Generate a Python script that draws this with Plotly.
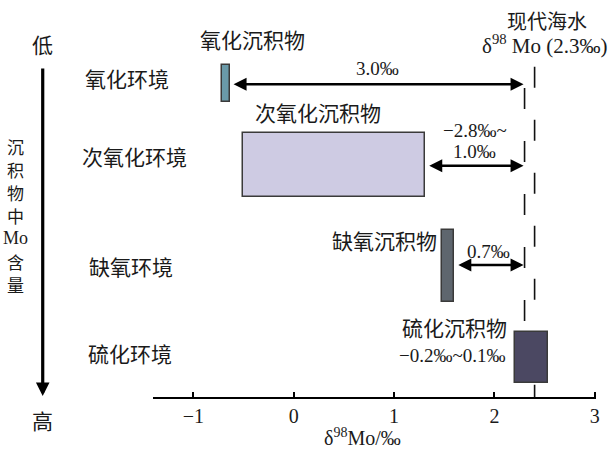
import plotly.graph_objects as go

# ---------------- data ----------------
environments = ["氧化环境", "次氧化环境", "缺氧环境", "硫化环境"]
sediments = ["氧化沉积物", "次氧化沉积物", "缺氧沉积物", "硫化沉积物"]
d98_low = [-0.72, -0.51, 1.48, 2.20]
d98_high = [-0.64, 1.31, 1.60, 2.53]
seawater = 2.3
offset_labels = ["3.0‰", "−2.8‰~", "1.0‰", "0.7‰", "−0.2‰~0.1‰"]
x_ticks = [-1, 0, 1, 2, 3]
axis_chars = ["沉", "积", "物", "中", "Mo", "含", "量"]
bar_colors = ["#6a9aa9", "#cecbe3", "#5e666e", "#4b4862"]

# ---------------- layout helpers (pixel geometry) ----------------
W, H = 616, 451
row_y = [83.6, 165.3, 265.8, 357.5]      # vertical row centres (px from top)
row_h = [37.3, 64.0, 71.7, 50.4]         # bar thickness (px)
arrow_y = [84.3, 165.7, 265.0]
SERIF = "Liberation Serif, Noto Sans CJK SC, serif"
CJK = "Noto Sans CJK SC, sans-serif"


def px(x):
    return x / W


def py(y):
    return 1 - y / H


fig = go.Figure()
fig.add_trace(go.Bar(
    orientation="h",
    y=row_y,
    base=d98_low,
    x=[h - l for l, h in zip(d98_low, d98_high)],
    width=row_h,
    marker=dict(color=bar_colors, line=dict(color="#3a3a3a", width=1.5)),
    hoverinfo="skip",
    showlegend=False,
))

# seawater reference (broken dashed line)
shapes = [
    dict(type="line", xref="x", yref="y", x0=seawater, x1=seawater, y0=88, y1=397,
         line=dict(color="#111", width=1.6, dash="21px,32px"), layer="below"),
    dict(type="line", xref="x", yref="y", x0=seawater + 0.1, x1=seawater + 0.1, y0=66.7, y1=397,
         line=dict(color="#111", width=1.6, dash="21px,32px"), layer="below"),
]

ann = []
# double-headed arrows between sediment bars and seawater
for i in range(3):
    ann.append(dict(
        x=seawater - 0.01, y=arrow_y[i], xref="x", yref="y",
        ax=d98_high[i] + 0.025, ay=arrow_y[i], axref="x", ayref="y",
        text="", showarrow=True, arrowhead=2, startarrowhead=2,
        arrowside="end+start", arrowwidth=2.6, arrowsize=1, startarrowsize=1,
        arrowcolor="#000", standoff=0, startstandoff=0,
    ))


def txt(t, x, y, size, family=SERIF, xanchor="center"):
    ann.append(dict(text=t, x=px(x), y=py(y), xref="paper", yref="paper",
                    showarrow=False, xanchor=xanchor, yanchor="middle",
                    borderpad=0,
                    font=dict(size=size, family=family, color="#1a1a1a")))


# sediment labels
sed_pos = [(254, 39), (320, 112), (387, 240), (457, 327)]
for s, (x, y) in zip(sediments, sed_pos):
    txt(s, x, y, 21, CJK)

# offset labels
off_pos = [(380, 69), (478, 130), (478, 151), (492, 251), (455, 355)]
for s, (x, y) in zip(offset_labels, off_pos):
    txt(s, x, y, 19)

# seawater labels
txt("现代海水", 551, 21, 20, CJK)
txt("δ<sup>98</sup> Mo (2.3‰)", 549, 45, 21)

# environment labels
env_pos = [(128, 78), (135, 156), (132, 266), (131, 353)]
for s, (x, y) in zip(environments, env_pos):
    txt(s, x, y, 21, CJK)

# left vertical axis
txt("低", 43, 44, 21, CJK)
txt("高", 43, 420, 21, CJK)
for k, ch in enumerate(axis_chars):
    txt(ch, 16, 146 + 23 * k, 17 if ch != "Mo" else 18, CJK if ch != "Mo" else SERIF)
ann.append(dict(x=px(43), y=py(396), xref="paper", yref="paper",
                ax=0, ay=-329, text="", showarrow=True, arrowhead=2,
                arrowwidth=3.2, arrowsize=0.85, arrowcolor="#000", standoff=0))

# x-axis title
txt("δ<sup>98</sup>Mo/‰", 365, 437, 20)

fig.update_layout(
    width=W, height=H,
    margin=dict(l=0, r=0, t=0, b=0),
    paper_bgcolor="white", plot_bgcolor="white",
    shapes=shapes, annotations=ann,
    bargap=0,
    xaxis=dict(domain=[154 / W, 600 / W], range=[-1.403, 3.013],
               showgrid=False, zeroline=False, showline=True, linecolor="#000",
               linewidth=1.5, ticks="inside", ticklen=5, tickwidth=1.5, tickcolor="#000",
               tickvals=x_ticks, ticktext=[("−" + str(-v)) if v < 0 else str(v) for v in x_ticks],
               tickfont=dict(size=20, family=SERIF, color="#1a1a1a")),
    yaxis=dict(domain=[54 / H, 1], range=[397, 0], visible=False),
)

fig.write_html("out.html", config={"displayModeBar": False},
               post_script="document.body.style.margin='0';document.body.style.overflow='hidden';")
